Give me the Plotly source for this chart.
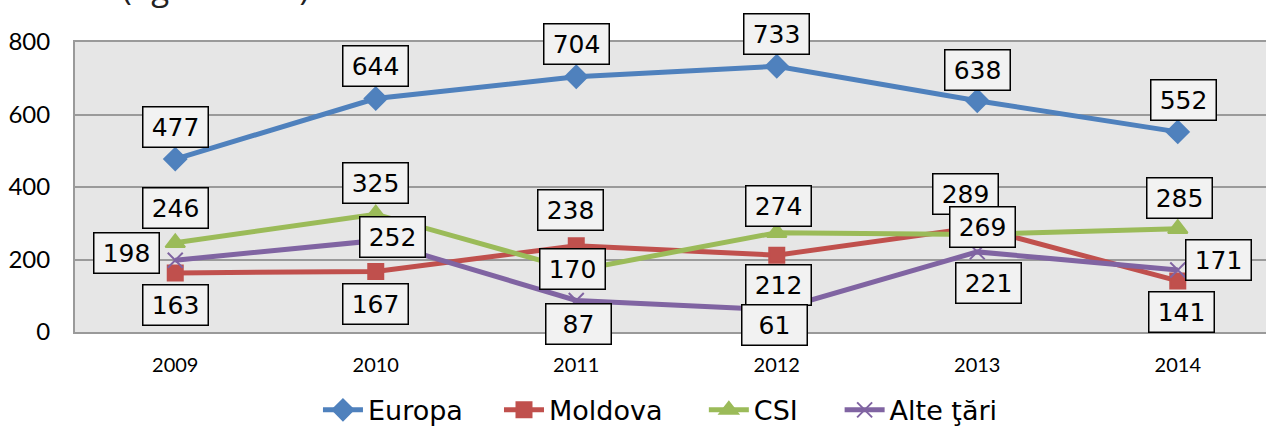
import plotly.graph_objects as go

# Data
years = [2009, 2010, 2011, 2012, 2013, 2014]
europa = [477, 644, 704, 733, 638, 552]
moldova = [163, 167, 238, 212, 289, 141]
csi = [246, 325, 170, 274, 269, 285]
alte = [198, 252, 87, 61, 221, 171]

y_ticks = [0, 200, 400, 600, 800]

# label offsets in pixels (xshift, yshift) per point, like Excel's manual placing
europa_off = [(0, 32), (0, 33), (0, 33), (0, 32), (0, 31), (6, 32)]
moldova_off = [(0, -32), (0, -33), (-6, 36), (2, -30), (-12, 33), (4, -31)]
csi_off = [(0, 35), (0, 31), (-4, 1), (2, 27), (5, 7), (2, 31)]
alte_off = [(-49, 7), (17, 4), (2, -24), (-2, -15), (11, -31), (41, 10)]

series = [
    ("Europa", europa, "#4f81bd", "diamond", 17, europa_off),
    ("Moldova", moldova, "#c0504d", "square", 15, moldova_off),
    ("CSI", csi, "#9bbb59", "triangle-up", 17, csi_off),
    ("Alte ţări", alte, "#8064a2", "x-thin", 15, alte_off),
]

# one small legend per series so the entries can sit where Excel put them
legend_ids = ["legend", "legend2", "legend3", "legend4"]
legend_x = [0.204, 0.356, 0.528, 0.642]

fig = go.Figure()

for (name, vals, color, symbol, msize, offs), lid in zip(series, legend_ids):
    fig.add_trace(go.Scatter(
        x=years, y=vals, name=name, mode="lines+markers",
        line=dict(color=color, width=5),
        marker=dict(symbol=symbol, size=msize, color=color,
                    line=dict(color=color, width=2)),
        cliponaxis=False, legend=lid,
    ))
    for yr, v, (dx, dy) in zip(years, vals, offs):
        fig.add_annotation(
            x=yr, y=v, xref="x", yref="y", text=str(v), showarrow=False,
            xshift=dx, yshift=dy,
            font=dict(family="DejaVu Sans", size=25, color="black"),
            bgcolor="#f2f2f2", bordercolor="black", borderwidth=1.5,
            borderpad=3, width=58, height=33,
        )

# piece of the document text cut off above the chart
fig.add_annotation(
    x=0.2057, y=1.103, xref="paper", yref="paper", xanchor="right", yanchor="bottom",
    text="de la an la an (figura nr. 4).", showarrow=False,
    font=dict(family="Open Sans", size=33, color="#222222"),
)

legend_style = dict(orientation="h", xanchor="left", y=-0.27, yanchor="middle",
                    font=dict(family="DejaVu Sans", size=27, color="black"),
                    bgcolor="rgba(0,0,0,0)", itemwidth=40)

fig.update_layout(
    width=1266, height=427,
    margin=dict(l=75, r=0, t=42, b=95, autoexpand=False),
    paper_bgcolor="white",
    plot_bgcolor="#e6e6e6",
    showlegend=True,
)
for lid, lx in zip(legend_ids, legend_x):
    fig.update_layout({lid: dict(legend_style, x=lx)})

fig.update_xaxes(
    range=[2008.5, 2014.44], tickvals=years,
    showgrid=False, zeroline=False,
    showline=True, linecolor="#9a9a9a", linewidth=2, mirror=True,
    ticks="", tickfont=dict(family="Lato", size=20, color="black"),
    ticklabelstandoff=14,
)
fig.update_yaxes(
    range=[0, 800], tickvals=y_ticks,
    showgrid=True, gridcolor="#9a9a9a", gridwidth=2,
    showline=True, linecolor="#9a9a9a", linewidth=2, mirror=True,
    zeroline=False,
    ticks="", tickfont=dict(family="Lato", size=24, color="black"),
    ticklabelstandoff=18,
)

fig.write_html("out.html", config={"displayModeBar": False},
               post_script="document.body.style.margin='0';document.body.style.overflow='hidden';")
